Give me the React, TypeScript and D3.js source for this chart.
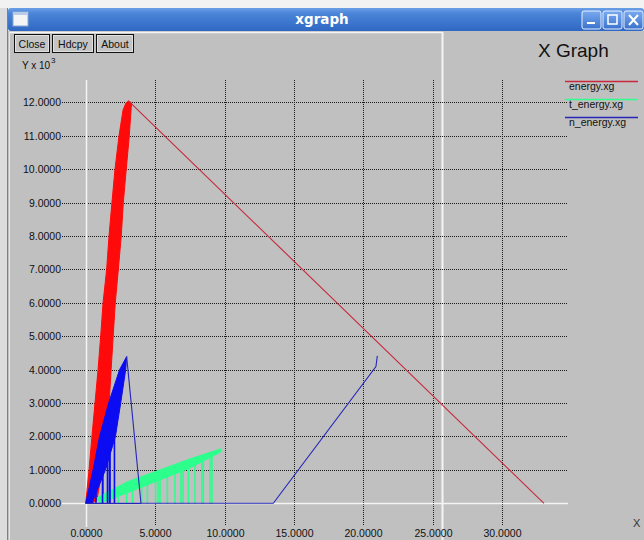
import React from 'react';
import * as d3 from 'd3';

type P = [number, number];

const xTicks = [0, 5, 10, 15, 20, 25, 30];
const yTicks = [0, 1, 2, 3, 4, 5, 6, 7, 8, 9, 10, 11, 12];
const legendLabels = ['energy.xg', 't_energy.xg', 'n_energy.xg'];
const buttonLabels = ['Close', 'Hdcpy', 'About'];

// energy.xg (red): dense band edges, a drop line and the long tail
const energyBandLeft: P[] = [
  [0, 0], [0.24, 1.0], [0.45, 2.0], [0.67, 3.0], [0.89, 4.0], [1.08, 5.0],
  [1.25, 6.0], [1.51, 7.0], [1.68, 8.0], [1.89, 9.0], [2.11, 10.0],
  [2.4, 11.0], [2.69, 11.77], [2.9, 11.98], [3.08, 12.04],
];
const energyBandRight: P[] = [
  [3.3, 11.98], [3.14, 11.0], [2.92, 10.0], [2.71, 9.0], [2.56, 8.0],
  [2.35, 7.0], [2.13, 6.0], [1.98, 5.0], [1.83, 4.0], [1.69, 3.0],
  [1.47, 2.0], [1.18, 1.0], [0.81, 0.1], [0.45, 0],
];
const energyDrops: P[] = [[1.25, 1.0]];
const energyTail: P[] = [[3.08, 12.04], [33.0, 0]];

// t_energy.xg (green)
const tEnergyBandTop: P[] = [
  [0.81, 0.16], [2.97, 0.64], [5.35, 1.0], [7.52, 1.33], [9.74, 1.63],
];
const tEnergyBandBottom: P[] = [
  [9.74, 1.54], [7.52, 1.06], [5.35, 0.7], [2.97, 0.31], [1.03, 0.0],
];
const tEnergyDrops: P[] = [
  [2.35, 0.42], [2.95, 0.5], [3.38, 0.56], [4.03, 0.66], [4.44, 0.73],
  [5.03, 0.82], [5.21, 0.85], [5.35, 0.86], [5.88, 0.94], [6.43, 1.02],
  [6.86, 1.09], [7.01, 1.11], [7.39, 1.17], [7.87, 1.25], [8.37, 1.33],
  [8.47, 1.35], [8.95, 1.42], [9.09, 1.45],
];

// n_energy.xg (blue)
const nEnergyBandLeft: P[] = [
  [0, 0], [0.53, 1.0], [1.0, 2.0], [1.65, 3.0], [2.44, 4.0], [2.95, 4.39],
];
const nEnergyBandRight: P[] = [
  [2.88, 4.0], [2.52, 3.0], [2.14, 2.0], [1.42, 1.0], [0.83, 0.4], [0.45, 0],
];
const nEnergyDrops: P[] = [
  [0.74, 0.55], [1.21, 1.25], [1.57, 1.69], [1.71, 1.7], [1.75, 1.72], [2.07, 2.14],
];
const nEnergyBase: P[] = [[0, 0], [3.98, 0]];
const nEnergyTail: P[] = [
  [2.95, 4.39], [3.98, 0], [13.51, 0], [20.9, 4.09], [21.0, 4.41],
];

const RED = '#ff0a0a';
const RED_THIN = '#c8283c';
const GREEN = '#2cff8c';
const BLUE = '#0c0cf2';
const BLUE_THIN = '#2626b8';
const BG = '#c0c0c0';
const FONT = '"Liberation Sans", Arial, sans-serif';

export default function App() {
  const x = d3.scaleLinear().domain([0, 30]).range([85.7, 502.3]);
  const y = d3.scaleLinear().domain([0, 12]).range([503.3, 102.3]);
  const line = d3.line<P>().x((d) => x(d[0])).y((d) => y(d[1]));
  const poly = (a: P[], b: P[]) => line([...a, ...b]) + 'Z';

  const gridLeft = 62;
  const gridRight = 568;
  const gridTop = 80;
  const gridBottom = 525;

  const legendY = [81, 99, 117];
  const legendColors = [RED_THIN, GREEN, BLUE_THIN];
  const buttons = [
    { x: 14, w: 35 },
    { x: 52, w: 41 },
    { x: 96, w: 37 },
  ];

  return (
    <svg
      width={644}
      height={540}
      style={{ position: 'absolute', left: 0, top: 0, display: 'block' }}
    >
      <defs>
        <linearGradient id="tb" x1="0" y1="0" x2="0" y2="1">
          <stop offset="0" stopColor="#6a9fe6" />
          <stop offset="0.25" stopColor="#4a84d8" />
          <stop offset="1" stopColor="#2f68c2" />
        </linearGradient>
        <linearGradient id="wb" x1="0" y1="0" x2="0" y2="1">
          <stop offset="0" stopColor="#7aaaf0" />
          <stop offset="1" stopColor="#3b72cc" />
        </linearGradient>
      </defs>
      {/* desktop */}
      <rect x={0} y={0} width={644} height={540} fill="#f2f2f2" />
      <rect x={0} y={8} width={8} height={532} fill="#dcdcdc" />
      <line x1={7.5} y1={8} x2={7.5} y2={540} stroke="#808080" />
      {/* window body */}
      <rect x={8} y={31} width={636} height={509} fill={BG} />
      {/* title bar */}
      <rect x={8} y={8} width={636} height={23} rx={3} fill="url(#tb)" />
      <rect x={13} y={12} width={15} height={14} fill="#f4f4f4" stroke="#8aa8d8" />
      <rect x={13} y={12} width={15} height={3} fill="#b8cce8" />
      <text
        x={322}
        y={24}
        textAnchor="middle"
        fill="#ffffff"
        fontFamily='"DejaVu Sans", Verdana, sans-serif'
        fontWeight="bold"
        fontSize={13.5}
      >
        xgraph
      </text>
      {[582, 603, 624].map((bx, i) => (
        <g key={i}>
          <rect x={bx} y={11} width={19} height={18} rx={2} fill="url(#wb)" stroke="#e8f0ff" strokeWidth={1} />
          {i === 0 && <rect x={bx + 5} y={22} width={8} height={2} fill="#fff" />}
          {i === 1 && <rect x={bx + 5} y={15} width={9} height={9} fill="none" stroke="#fff" strokeWidth={1.5} />}
          {i === 2 && (
            <path
              d={`M${bx + 5},${15} L${bx + 14},${25} M${bx + 14},${15} L${bx + 5},${25}`}
              stroke="#fff"
              strokeWidth={2}
            />
          )}
        </g>
      ))}
      {/* overlay white border lines */}
      <line x1={9} y1={32.5} x2={442} y2={32.5} stroke="#f4f4f4" strokeWidth={1.5} />
      <line x1={442.5} y1={32} x2={442.5} y2={540} stroke="#f4f4f4" strokeWidth={2} />
      <line x1={9.5} y1={32} x2={9.5} y2={540} stroke="#e6e6e6" strokeWidth={1} />

      {/* buttons */}
      {buttons.map((b, i) => (
        <g key={i}>
          <rect x={b.x + 0.5} y={34.5} width={b.w} height={18} fill="#c4c4c4" stroke="#111" />
          <rect x={b.x + 1.5} y={35.5} width={b.w - 2} height={16} fill="none" stroke="#e8e8e8" strokeWidth={0.8} />
          <text
            x={b.x + b.w / 2 + 0.5}
            y={47.5}
            textAnchor="middle"
            fontFamily={FONT}
            fontSize={10.5}
            fill="#111"
          >
            {buttonLabels[i]}
          </text>
        </g>
      ))}

      {/* title */}
      <text x={538} y={57} fontFamily={FONT} fontSize={19} fill="#111">
        X Graph
      </text>

      {/* axis title */}
      <text x={22} y={69} fontFamily={FONT} fontSize={10} fill="#111">
        Y x 10
      </text>
      <text x={51} y={63} fontFamily={FONT} fontSize={8} fill="#111">
        3
      </text>
      <text x={633} y={527} fontFamily={FONT} fontSize={11} fill="#333">
        X
      </text>

      {/* grid */}
      {yTicks.map((v) => {
        const yy = Math.round(y(v)) + 0.5;
        return (
          <g key={'y' + v}>
            {v !== 0 && (
              <line x1={gridLeft} x2={gridRight} y1={yy} y2={yy} stroke="#1a1a1a" strokeDasharray="1,1" />
            )}
            <text
              x={61}
              y={yy + 3.8}
              textAnchor="end"
              fontFamily={FONT}
              fontSize={10.5}
              fill="#111"
            >
              {v.toFixed(4)}
            </text>
          </g>
        );
      })}
      {xTicks.map((v) => {
        const xx = Math.round(x(v)) + 0.5;
        return (
          <g key={'x' + v}>
            {v !== 0 && (
              <line x1={xx} x2={xx} y1={gridTop} y2={gridBottom} stroke="#1a1a1a" strokeDasharray="1,1" />
            )}
            <text
              x={xx}
              y={537}
              textAnchor="middle"
              fontFamily={FONT}
              fontSize={10.5}
              fill="#111"
            >
              {v.toFixed(4)}
            </text>
          </g>
        );
      })}
      {/* zero axes */}
      <line
        x1={gridLeft}
        x2={gridRight}
        y1={Math.round(y(0)) + 0.5}
        y2={Math.round(y(0)) + 0.5}
        stroke="#f4f4f4"
        strokeWidth={1.5}
      />
      <line
        x1={Math.round(x(0)) + 0.5}
        x2={Math.round(x(0)) + 0.5}
        y1={gridTop}
        y2={gridBottom + 2}
        stroke="#f4f4f4"
        strokeWidth={1.5}
      />

      {/* energy.xg */}
      <path d={poly(energyBandLeft, energyBandRight)} fill={RED} stroke={RED} strokeWidth={1} strokeLinejoin="round" />
      {energyDrops.map((d, i) => (
        <line key={i} x1={x(d[0])} x2={x(d[0])} y1={y(d[1])} y2={y(0)} stroke={RED} strokeWidth={1.5} />
      ))}
      <path d={line(energyTail) || ''} fill="none" stroke={RED_THIN} strokeWidth={1.1} />

      {/* t_energy.xg */}
      {tEnergyDrops.map((d, i) => (
        <line key={i} x1={x(d[0])} x2={x(d[0])} y1={y(d[1])} y2={y(0)} stroke={GREEN} strokeWidth={1.6} />
      ))}
      <path d={poly(tEnergyBandTop, tEnergyBandBottom)} fill={GREEN} stroke={GREEN} strokeWidth={1} strokeLinejoin="round" />

      {/* n_energy.xg */}
      <path d={poly(nEnergyBandLeft, nEnergyBandRight)} fill={BLUE} stroke={BLUE} strokeWidth={1} strokeLinejoin="round" />
      {nEnergyDrops.map((d, i) => (
        <line key={i} x1={x(d[0])} x2={x(d[0])} y1={y(d[1])} y2={y(0)} stroke={BLUE} strokeWidth={1.6} />
      ))}
      <path d={line(nEnergyBase) || ''} fill="none" stroke={BLUE_THIN} strokeWidth={1.3} />
      <path d={line(nEnergyTail) || ''} fill="none" stroke={BLUE_THIN} strokeWidth={1.1} />

      {/* legend */}
      {legendLabels.map((l, i) => (
        <g key={l}>
          <line x1={565} x2={638} y1={legendY[i] + 0.5} y2={legendY[i] + 0.5} stroke={legendColors[i]} strokeWidth={1.5} />
          <text x={569} y={legendY[i] + 8.5} fontFamily={FONT} fontSize={10.5} fill="#111">
            {l}
          </text>
        </g>
      ))}
    </svg>
  );
}
